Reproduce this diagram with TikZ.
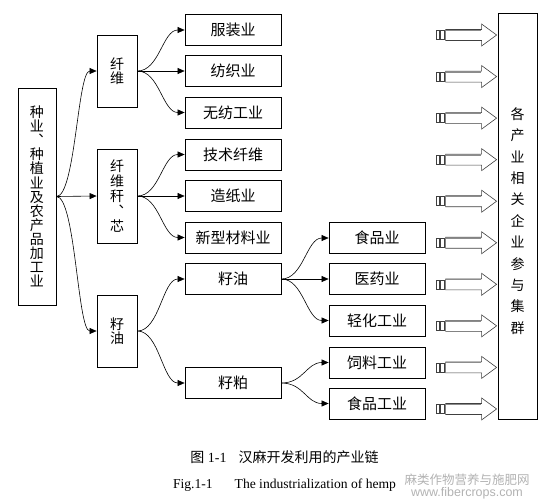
\documentclass[tikz,border=0pt]{standalone}
\usepackage{fontspec}
\setmainfont{Liberation Serif}
\newfontfamily\cjk{Noto Sans CJK SC}
\usetikzlibrary{arrows.meta, positioning, calc}

\begin{document}
\begin{tikzpicture}[x=1pt, y=-1pt,
    box/.style={draw, line width=0.8pt, inner sep=0pt, minimum width=96pt, minimum height=31pt, font=\cjk\fontsize{15}{15}\selectfont},
    vbox/.style={draw, line width=0.8pt, inner sep=0pt, minimum width=40pt, align=center, font=\cjk\fontsize{14}{14.5}\selectfont},
    flow/.style={-{Triangle[length=7pt,width=6pt]}, line width=0.6pt},
    hollow/.style={draw=black!75, line width=0.6pt, fill=white}]
  \useasboundingbox (0,0) rectangle (539,504);
  % source and groups
  \node[vbox, minimum width=38pt, minimum height=217pt, font=\cjk\fontsize{14}{14.1}\selectfont] (src) at (37,196.5)
    {种\\业\\︑\\种\\植\\业\\及\\农\\产\\品\\加\\工\\业};
  \node[vbox, minimum height=72pt] (xw) at (117,71) {纤\\维};
  \node[vbox, minimum height=94pt, font=\cjk\fontsize{14}{15}\selectfont] (xg) at (117,196) {纤\\维\\秆\\︑\\芯};
  \node[vbox, minimum height=72pt] (zm) at (117,331) {籽\\油};
  % products
  \node[box] (fz) at (233,30) {服装业};
  \node[box] (fj) at (233,71) {纺织业};
  \node[box] (wf) at (233,112.5) {无纺工业};
  \node[box] (js) at (233,154.5) {技术纤维};
  \node[box] (zz) at (233,196) {造纸业};
  \node[box] (xx) at (233,237.5) {新型材料业};
  \node[box] (zy) at (233,279) {籽油};
  \node[box] (zp) at (233,383) {籽粕};
  \node[box] (sp) at (377,238) {食品业};
  \node[box] (yy) at (377,279) {医药业};
  \node[box] (qh) at (377,320.5) {轻化工业};
  \node[box] (sl) at (377,362.5) {饲料工业};
  \node[box] (sg) at (377,403.5) {食品工业};
  \node[vbox, minimum width=39pt, minimum height=406pt] (grp) at (517.5,216) {};
  \node[align=center, inner sep=0pt, font=\cjk\fontsize{14}{21.4}\selectfont] (grptxt) at (517.5,221)
    {各\\产\\业\\相\\关\\企\\业\\参\\与\\集\\群};
  % connectors
  \draw[flow] (src.east) .. controls +(19,0) and +(-19,0) .. (xw.west);
  \draw[flow] (src.east) -- (xg.west);
  \draw[flow] (src.east) .. controls +(19,0) and +(-19,0) .. (zm.west);
  \draw[flow] (xw.east) .. controls +(22,0) and +(-22,0) .. (fz.west);
  \draw[flow] (xw.east) -- (fj.west);
  \draw[flow] (xw.east) .. controls +(22,0) and +(-22,0) .. (wf.west);
  \draw[flow] (xg.east) .. controls +(22,0) and +(-22,0) .. (js.west);
  \draw[flow] (xg.east) -- (zz.west);
  \draw[flow] (xg.east) .. controls +(22,0) and +(-22,0) .. (xx.west);
  \draw[flow] (zm.east) .. controls +(22,0) and +(-22,0) .. (zy.west);
  \draw[flow] (zm.east) .. controls +(22,0) and +(-22,0) .. (zp.west);
  \draw[flow] (zy.east) .. controls +(22,0) and +(-22,0) .. (sp.west);
  \draw[flow] (zy.east) -- (yy.west);
  \draw[flow] (zy.east) .. controls +(22,0) and +(-22,0) .. (qh.west);
  \draw[flow] (zp.east) .. controls +(22,0) and +(-22,0) .. (sl.west);
  \draw[flow] (zp.east) .. controls +(22,0) and +(-22,0) .. (sg.west);
  % striped arrows into the group box
  \foreach \i in {0,...,9} {
    \coordinate (t\i) at ($(grp.west |- 0,35) + (-1,41.55*\i)$);
    \draw[hollow] ($(t\i)+(-60,-4.5)$) rectangle ++(2.7,9);
    \draw[hollow] ($(t\i)+(-56,-4.5)$) rectangle ++(3.5,9);
    \draw[hollow] ($(t\i)+(-51,-5.5)$) -- ++(36,0) -- ++(0,-5.5) -- (t\i)
      -- ++(-15,11) -- ++(0,-5.5) -- ++(-36,0) -- cycle;
    \draw[black!45, line width=1.2pt] ($(t\i)+(-50.5,-4.6)$) -- ++(35,0);
  }
  % captions
  \node[font=\fontsize{14}{14}\selectfont] (cap) at (284.5,457) {{\cjk 图}~1-1\hspace{12pt}{\cjk 汉麻开发利用的产业链}};
  \node[font=\fontsize{13.6}{14}\selectfont] (capen) at (284.5,485) {Fig.1-1\hspace{22pt}The industrialization of hemp};
  \node[text=black!30, align=center, font=\fontsize{12.5}{12}\selectfont] (wm) at (467,486)
    {{\cjk 麻类作物营养与施肥网}\\{\fontspec{Liberation Sans}www.fibercrops.com}};
\end{tikzpicture}
\end{document}
